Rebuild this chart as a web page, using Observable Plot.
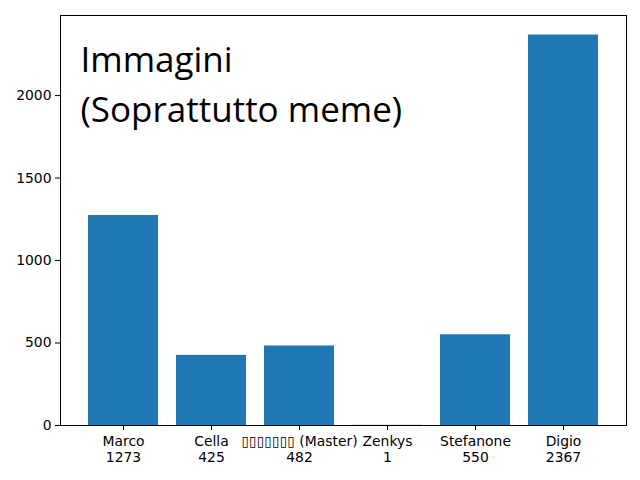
<!DOCTYPE html>
<html>
<head>
<meta charset="utf-8">
<script src="https://cdn.jsdelivr.net/npm/d3@7"></script>
<script src="https://cdn.jsdelivr.net/npm/@observablehq/plot@0.6"></script>
<style>
  html, body { margin: 0; padding: 0; background: #fff; }
  svg { display: block; }
</style>
</head>
<body>
<div id="chart"></div>
<script>
const names = ["Marco", "Cella", "\u25AF\u25AF\u25AF\u25AF\u25AF\u25AF\u25AF (Master)", "Zenkys", "Stefanone", "Digio"];
const counts = [1273, 425, 482, 1, 550, 2367];
const yTicks = [0, 500, 1000, 1500, 2000];
const titleLines = ["Immagini", "(Soprattutto meme)"];

const data = names.map((n, i) => ({name: n, count: counts[i]}));
const labelOf = new Map(names.map((n, i) => [n, n + "\n" + counts[i]]));

const chart = Plot.plot({
  width: 640,
  height: 480,
  marginLeft: 60,
  marginRight: 14,
  marginTop: 15,
  marginBottom: 55,
  style: {fontFamily: "DejaVu Sans", fontSize: "13.9px", color: "black", background: "white"},
  x: {domain: names, paddingInner: 0.2, paddingOuter: 0.29, align: 0.5, label: null},
  y: {domain: [0, 2367 * 1.05], label: null},
  marks: [
    Plot.barY(data, {x: "name", y: "count", fill: "#1f77b4"}),
    Plot.axisX({tickSize: 5, tickPadding: 4, tickFormat: d => labelOf.get(d), lineHeight: 1.17, fontSize: "13.9px", stroke: "black"}),
    Plot.axisY({ticks: yTicks, tickSize: 5, tickPadding: 4, fontSize: "13.9px", stroke: "black", tickFormat: d => String(d)}),
    Plot.frame({stroke: "black", strokeWidth: 1}),
    Plot.text([titleLines.join("\n")], {
      frameAnchor: "top-left", dx: 20, dy: 21, text: d => d,
      textAnchor: "start", lineAnchor: "top", lineHeight: 1.43,
      fontSize: 35, fontFamily: "Open Sans", fill: "black"
    })
  ]
});
document.getElementById("chart").appendChild(chart);
</script>
</body>
</html>
